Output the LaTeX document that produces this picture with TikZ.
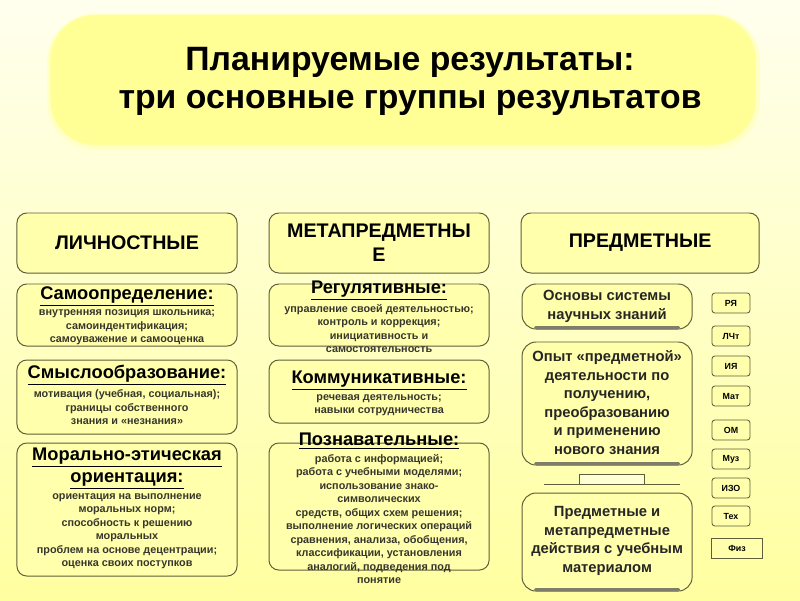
\documentclass[tikz,border=0pt]{standalone}
\usepackage{fontspec}
\setmainfont{Liberation Sans}
\usepackage{xcolor}
\usetikzlibrary{positioning,calc}
\definecolor{bgtop}{RGB}{255,255,238}
\definecolor{bgbot}{RGB}{255,255,160}
\definecolor{titlefill}{RGB}{255,255,150}
\definecolor{boxfill}{RGB}{255,255,172}
\definecolor{boxline}{RGB}{95,95,60}
\definecolor{bodytext}{RGB}{55,55,45}
\definecolor{shadegray}{RGB}{125,125,105}
\newcommand{\hdrfont}{\fontsize{14}{17}\selectfont\bfseries}
\newcommand{\ttlfont}{\fontsize{13}{15}\selectfont\bfseries}
\newcommand{\bodyfont}{\fontsize{7.7}{9.6}\selectfont\bfseries}
\newcommand{\subt}[1]{{\ttlfont\color{black}\underline{#1}}}
\begin{document}
\begin{tikzpicture}[
      x=0.025cm,y=-0.025cm,
      box/.style={draw=boxline,fill=boxfill,rounded corners=7pt,line width=0.7pt,minimum width=5.5cm,inner sep=0pt},
      hdr/.style={box,minimum height=1.5cm,font=\hdrfont,align=center},
      rbox/.style={box,rounded corners=10pt,minimum width=4.25cm},
      txt/.style={align=center,font=\bodyfont,text=bodytext,inner sep=0pt},
      rtxt/.style={align=center,font=\fontsize{10.5}{13.2}\selectfont\bfseries,text=black!85,inner sep=0pt},
      subj/.style={draw=boxline,fill=boxfill,rounded corners=2pt,line width=0.6pt,minimum width=0.95cm,minimum height=0.5cm,inner sep=0pt,font=\fontsize{6.3}{7}\selectfont\bfseries}
    ]
    \useasboundingbox (0,0) rectangle (800,600);
    \shade[top color=bgtop,bottom color=bgbot] (0,0) rectangle (800,600);

    % title
    \fill[titlefill!45!bgtop,rounded corners=34pt] (47,14) rectangle (760,150);
    \node[fill=titlefill,rounded corners=32pt,minimum width=17.625cm,minimum height=3.25cm] (titlebox) at (403,80) {};
    \node[font=\fontsize{24}{27}\selectfont\bfseries,align=center] (title) at (410,81) {Планируемые результаты:\\ три основные группы результатов};

    % three groups
    \node[hdr] (lich) at (127,243) {ЛИЧНОСТНЫЕ};
    \node[hdr,right=0.775cm of lich] (meta) {МЕТАПРЕДМЕТНЫ\\Е};
    \node[hdr,minimum width=5.95cm,right=0.775cm of meta] (pred) {ПРЕДМЕТНЫЕ};

    % personal
    \node[box,minimum height=1.55cm,below=0.25cm of lich] (samo) {};
    \node[box,minimum height=1.85cm,below=0.325cm of samo] (smysl) {};
    \node[box,minimum height=3.325cm,below=0.2cm of smysl] (moral) {};
    \node[txt] (tsamo) at ($(samo)+(0,1)$) {\subt{Самоопределение:}\\[2pt] внутренняя позиция школьника;\\ самоиндентификация;\\ самоуважение и самооценка};
    \node[txt] (tsmysl) at ($(smysl)+(0,-2)$) {\subt{Смыслообразование:}\\[2pt] мотивация (учебная, социальная);\\ границы собственного\\ знания и «незнания»};
    \node[txt] (tmoral) at ($(moral)+(0,-1)$) {\subt{Морально-этическая}\\[3pt] \subt{ориентация:}\\[2pt] ориентация на выполнение\\ моральных норм;\\ способность к решению\\ моральных\\ проблем на основе децентрации;\\ оценка своих поступков};

    % meta-subject
    \node[box,minimum height=1.55cm,below=0.25cm of meta] (regul) {};
    \node[box,minimum height=1.575cm,below=0.325cm of regul] (komm) {};
    \node[box,minimum height=3.175cm,below=0.475cm of komm] (pozn) {};
    \node[txt] (tregul) at ($(regul)+(0,2)$) {\subt{Регулятивные:}\\[2pt] управление своей деятельностью;\\ контроль и коррекция;\\ инициативность и\\ самостоятельность};
    \node[txt] (tkomm) at ($(komm)+(0,2)$) {\subt{Коммуникативные:}\\[2pt] речевая деятельность;\\ навыки сотрудничества};
    \node[txt] (tpozn) at ($(pozn)+(0,2)$) {\subt{Познавательные:}\\[2pt] работа с информацией;\\ работа с учебными моделями;\\ использование знако-\\ символических\\ средств, общих схем решения;\\ выполнение логических операций\\ сравнения, анализа, обобщения,\\ классификации, установления\\ аналогий, подведения под\\ понятие};

    % subject
    \node[rbox,minimum height=1.125cm,anchor=north west] (osn) at ($(pred.south west)+(1,10)$) {};
    \node[rbox,minimum height=3.075cm,below=0.3cm of osn] (opyt) {};
    \node[rbox,minimum height=2.45cm,below=0.675cm of opyt] (deyst) {};
    \foreach \b in {osn,opyt,deyst}
      \draw[shadegray,line width=2.2pt,line cap=round] ($(\b.south west)+(14,-2)$) -- ($(\b.south east)+(-14,-2)$);
    \node[rtxt] (tosn) at (osn) {Основы системы\\ научных знаний};
    \node[rtxt] (topyt) at ($(opyt)+(0,-1)$) {Опыт «предметной»\\ деятельности по\\ получению,\\ преобразованию\\ и применению\\ нового знания};
    \node[rtxt] (tdeyst) at ($(deyst)+(0,-1)$) {Предметные и\\ метапредметные\\ действия с учебным\\ материалом};
    \node[draw=boxline,fill=boxfill!50!white,line width=0.6pt,minimum width=1.625cm,minimum height=0.25cm,inner sep=0pt] (link) at (612,479) {};
    \draw[boxline,line width=0.8pt] ($(link.south west)+(-35,0)$) -- ($(link.south east)+(35,0)$);

    % school subjects
    \foreach \s/\y [count=\i] in {РЯ/303,ЛЧт/336,ИЯ/366,Мат/396,ОМ/430,Муз/459,ИЗО/488,Тех/516}
      \node[subj] (subj\i) at (731,\y) {\s};
    \node[subj,rounded corners=0pt,minimum width=1.275cm] (fiz) at (737,548) {Физ};
  \end{tikzpicture}
\end{document}
